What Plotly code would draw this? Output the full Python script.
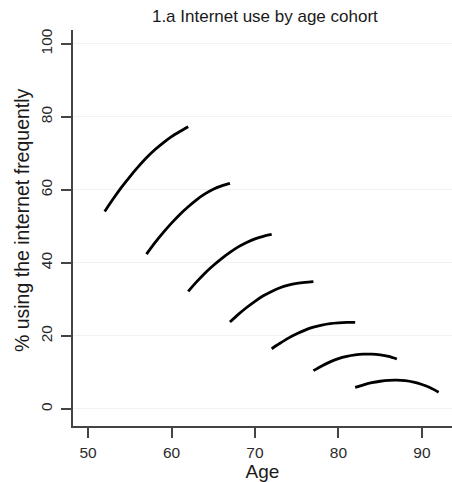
import plotly.graph_objects as go

# Age cohorts: ages and % using internet frequently
ages_c1 = [52, 53, 54, 55, 56, 57, 58, 59, 60, 61, 62]
pct_c1 = [54.1, 57.5, 60.7, 63.6, 66.3, 68.8, 71.0, 72.9, 74.6, 76.0, 77.3]

ages_c2 = [57, 58, 59, 60, 61, 62, 63, 64, 65, 66, 67]
pct_c2 = [42.4, 45.5, 48.3, 50.9, 53.3, 55.4, 57.3, 58.9, 60.2, 61.1, 61.8]

ages_c3 = [62, 63, 64, 65, 66, 67, 68, 69, 70, 71, 72]
pct_c3 = [32.2, 34.8, 37.2, 39.3, 41.2, 42.9, 44.4, 45.6, 46.6, 47.3, 47.8]

ages_c4 = [67, 68, 69, 70, 71, 72, 73, 74, 75, 76, 77]
pct_c4 = [23.8, 25.9, 27.8, 29.5, 31.0, 32.2, 33.2, 33.9, 34.4, 34.7, 34.9]

ages_c5 = [72, 73, 74, 75, 76, 77, 78, 79, 80, 81, 82]
pct_c5 = [16.5, 18.0, 19.4, 20.6, 21.6, 22.4, 23.0, 23.4, 23.6, 23.7, 23.7]

ages_c6 = [77, 78, 79, 80, 81, 82, 83, 84, 85, 86, 87]
pct_c6 = [10.5, 11.8, 12.9, 13.8, 14.4, 14.8, 15.0, 15.0, 14.8, 14.4, 13.7]

ages_c7 = [82, 83, 84, 85, 86, 87, 88, 89, 90, 91, 92]
pct_c7 = [5.9, 6.6, 7.2, 7.6, 7.85, 7.9, 7.75, 7.35, 6.7, 5.8, 4.6]

x_ticks = [50, 60, 70, 80, 90]
y_ticks = [0, 20, 40, 60, 80, 100]

cohorts = [
    (ages_c1, pct_c1), (ages_c2, pct_c2), (ages_c3, pct_c3), (ages_c4, pct_c4),
    (ages_c5, pct_c5), (ages_c6, pct_c6), (ages_c7, pct_c7),
]

fig = go.Figure()
for xs, ys in cohorts:
    fig.add_trace(go.Scatter(
        x=xs, y=ys, mode="lines",
        line=dict(color="black", width=2.8, shape="spline", smoothing=0.8),
        showlegend=False, hoverinfo="skip",
    ))

font_family = "Liberation Sans, Arial, sans-serif"

fig.update_layout(
    width=452, height=482,
    margin=dict(l=73, r=0, t=30, b=56),
    paper_bgcolor="white", plot_bgcolor="white",
    font=dict(family=font_family, color="#222222"),
    title=dict(
        text="1.a Internet use by age cohort",
        x=0.586, xanchor="center", y=0.967, yanchor="middle",
        font=dict(size=17, color="#1a1a1a", family=font_family),
    ),
    xaxis=dict(
        range=[48.2, 93.6], tickvals=x_ticks, ticktext=[str(v) for v in x_ticks],
        showgrid=False, zeroline=False,
        showline=True, linecolor="#444444", linewidth=2,
        ticks="outside", ticklen=10, tickwidth=1.5, tickcolor="#444444",
        tickfont=dict(size=15.5, color="#2a2a2a"),
        ticklabelstandoff=1,
        title=dict(text="Age", font=dict(size=19, color="#1a1a1a"), standoff=0),
    ),
    yaxis=dict(
        range=[-4.66, 103.8], tickvals=y_ticks, ticktext=[str(v) for v in y_ticks],
        showgrid=True, gridcolor="#f2f2f2", gridwidth=1, zeroline=False,
        showline=True, linecolor="#444444", linewidth=2,
        ticks="outside", ticklen=10, tickwidth=1.5, tickcolor="#444444",
        tickangle=-90, tickfont=dict(size=15.5, color="#2a2a2a"),
        ticklabelstandoff=3,
    ),
    annotations=[dict(
        text="% using the internet frequently",
        xref="paper", yref="paper", x=-0.1346, y=0.52,
        xanchor="center", yanchor="middle", textangle=-90, showarrow=False,
        font=dict(size=19.5, color="#1a1a1a", family=font_family),
    )],
)

fig.write_html("out.html")
